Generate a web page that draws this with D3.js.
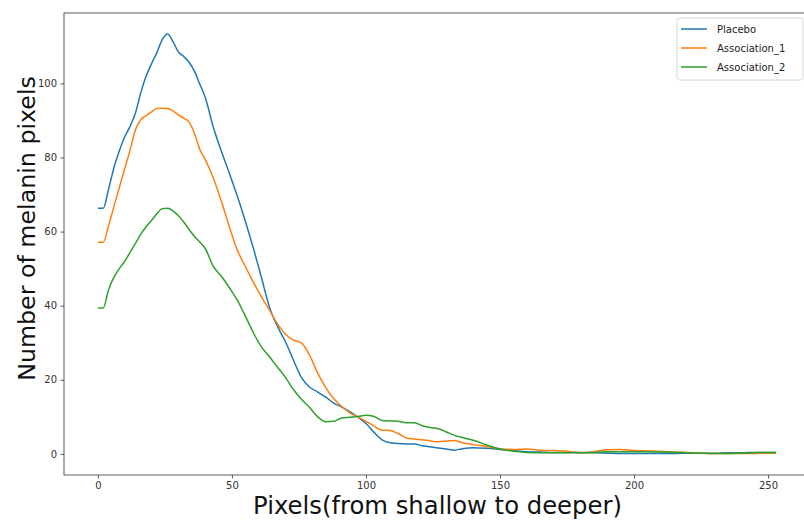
<!DOCTYPE html>
<html>
<head>
<meta charset="utf-8">
<script src="https://cdn.jsdelivr.net/npm/d3@7"></script>
<style>
  html, body { margin: 0; padding: 0; background: #fff; }
  svg { display: block; font-family: "DejaVu Sans", sans-serif; }
</style>
</head>
<body>
<svg id="chart" width="804" height="520"></svg>
<script>
// pixel depth (shared x positions)
const depth = [0, 2, 4, 6, 8, 10, 12, 14, 16, 18, 20, 22, 24, 26, 28, 30, 32, 34, 36, 38, 40,
  43, 46, 49, 52, 55, 58, 61, 64, 67, 70, 73, 76, 79, 82, 85, 88, 91, 94, 97, 100,
  103, 106, 109, 112, 115, 118, 121, 124, 127, 130, 133, 136, 140, 145, 150, 155, 160,
  165, 170, 175, 180, 185, 190, 195, 200, 205, 210, 215, 220, 225, 230, 235, 240, 245, 250, 253];

const placebo = [66.3, 66.3, 71.5, 77.3, 81.8, 85.6, 88.4, 92, 97.5, 102, 105.3, 108.3, 111.8, 113.3,
  111.3, 108.5, 107.3, 105.7, 103.3, 99.8, 96.3,
  88.3, 81.8, 75.8, 69.6, 62.8, 55.5, 47.6, 39.6, 34.4, 30.2, 25.2, 20.5, 18, 16.7, 15.3, 13.7, 12.6, 11.4, 9.9, 8.2,
  5.8, 3.8, 3.0, 2.8, 2.7, 2.7, 2.2, 1.9, 1.6, 1.3, 1.0, 1.4, 1.65, 1.5, 1.2, 0.9, 0.6,
  0.5, 0.4, 0.4, 0.3, 0.3, 0.2, 0.1, 0.1, 0.1, 0.1, 0.1, 0.2, 0.2, 0.2, 0.3, 0.3, 0.4, 0.4, 0.4];

const association1 = [57.1, 57.1, 61.7, 66.8, 71.9, 77, 82, 87.5, 90.2, 91.3, 92.3, 93.2, 93.3, 93.2,
  92.6, 91.5, 90.6, 89.6, 86.5, 82.2, 79.5,
  74.6, 68.3, 61.4, 55, 50.6, 46.3, 42.4, 38.8, 35.1, 32.3, 30.7, 29.9, 26.6, 21.8, 17.9, 14.9, 12.8, 11.1, 10, 8.8,
  7.5, 6.4, 6.3, 5.5, 4.3, 4.0, 3.8, 3.5, 3.3, 3.5, 3.6, 3.0, 2.5, 2.0, 1.4, 1.2, 1.3,
  1.0, 0.9, 0.7, 0.3, 0.6, 1.1, 1.2, 0.9, 0.8, 0.7, 0.5, 0.4, 0.2, 0.1, 0.1, 0.1, 0.1, 0.2, 0.2];

const association2 = [39.4, 39.4, 44.4, 47.7, 50, 52, 54.4, 56.8, 59.3, 61.3, 63, 64.8, 66.2, 66.3,
  65.6, 64.3, 62.6, 60.6, 58.7, 57.2, 55.5,
  50.7, 48, 44.9, 41.5, 37.2, 32.7, 28.9, 26.2, 23.4, 20.6, 17.3, 14.7, 12.5, 10, 8.7, 8.8, 9.7, 9.9, 10.1, 10.4,
  10.1, 9.0, 8.9, 8.8, 8.4, 8.4, 7.6, 7.1, 6.8, 5.9, 5.0, 4.4, 3.7, 2.4, 1.3, 0.7, 0.4,
  0.3, 0.3, 0.3, 0.4, 0.4, 0.6, 0.6, 0.6, 0.6, 0.5, 0.4, 0.3, 0.2, 0.1, 0.1, 0.2, 0.3, 0.4, 0.4];

const seriesNames = ["Placebo", "Association_1", "Association_2"];
const seriesColors = ["#1f77b4", "#ff7f0e", "#2ca02c"];
const xTicks = [0, 50, 100, 150, 200, 250];
const yTicks = [0, 20, 40, 60, 80, 100];

(function () {
  const svg = d3.select("#chart");
  // axes box (right edge falls just outside the picture, like the cropped original)
  const m = { left: 64, right: 810, top: 13, bottom: 475 };

  const x = d3.scaleLinear().domain([-12.65, 265.65]).range([m.left, m.right]);
  const y = d3.scaleLinear().domain([-5.7, 119]).range([m.bottom, m.top]);

  // lines
  const line = d3.line()
    .x(d => x(d[0]))
    .y(d => y(d[1]))
    .curve(d3.curveMonotoneX);

  [placebo, association1, association2].forEach((vals, i) => {
    svg.append("path")
      .datum(depth.map((d, j) => [d, vals[j]]))
      .attr("fill", "none")
      .attr("stroke", seriesColors[i])
      .attr("stroke-width", 1.5)
      .attr("stroke-linejoin", "round")
      .attr("d", line);
  });

  // axes
  const xAxis = svg.append("g")
    .attr("transform", `translate(0,${m.bottom})`)
    .call(d3.axisBottom(x).tickValues(xTicks).tickSize(3.5).tickPadding(3.5));
  const yAxis = svg.append("g")
    .attr("transform", `translate(${m.left},0)`)
    .call(d3.axisLeft(y).tickValues(yTicks).tickSize(3.5).tickPadding(3.5));

  [xAxis, yAxis].forEach(g => {
    g.select(".domain").remove();
    g.selectAll("line").attr("stroke", "#333").attr("stroke-width", 0.8);
    g.selectAll("text").attr("fill", "#333").style("font-size", "10px")
      .style("font-family", "DejaVu Sans, sans-serif");
  });

  // frame
  svg.append("rect")
    .attr("x", m.left).attr("y", m.top)
    .attr("width", m.right - m.left).attr("height", m.bottom - m.top)
    .attr("fill", "none").attr("stroke", "#333").attr("stroke-width", 0.8);

  // axis titles, sized to the width they take in the original
  function fitText(sel, target) {
    const w = sel.node().getComputedTextLength();
    const fs = parseFloat(sel.style("font-size"));
    sel.style("font-size", (fs * target / w) + "px");
  }

  const xt = svg.append("text")
    .attr("x", (253 + 622) / 2).attr("y", 514)
    .attr("text-anchor", "middle")
    .style("font-size", "22px").attr("fill", "#111")
    .text("Pixels(from shallow to deeper)");
  fitText(xt, 369);

  const yt = svg.append("text")
    .attr("transform", `translate(35,${(76 + 381) / 2}) rotate(-90)`)
    .attr("text-anchor", "middle")
    .style("font-size", "22px").attr("fill", "#111")
    .text("Number of melanin pixels");
  fitText(yt, 305);

  // legend
  const legend = svg.append("g").attr("transform", "translate(677,18)");
  legend.append("rect")
    .attr("width", 126).attr("height", 62).attr("rx", 2.5)
    .attr("fill", "#fff").attr("fill-opacity", 0.8)
    .attr("stroke", "#ccc").attr("stroke-width", 0.8);

  seriesNames.forEach((name, i) => {
    const row = legend.append("g").attr("transform", `translate(0,${11 + i * 19})`);
    row.append("line")
      .attr("x1", 4).attr("x2", 30)
      .attr("stroke", seriesColors[i]).attr("stroke-width", 1.5);
    row.append("text")
      .attr("x", 40).attr("y", 0).attr("dy", "0.35em")
      .style("font-size", "10px").attr("fill", "#222")
      .text(name);
  });
})();
</script>
</body>
</html>
